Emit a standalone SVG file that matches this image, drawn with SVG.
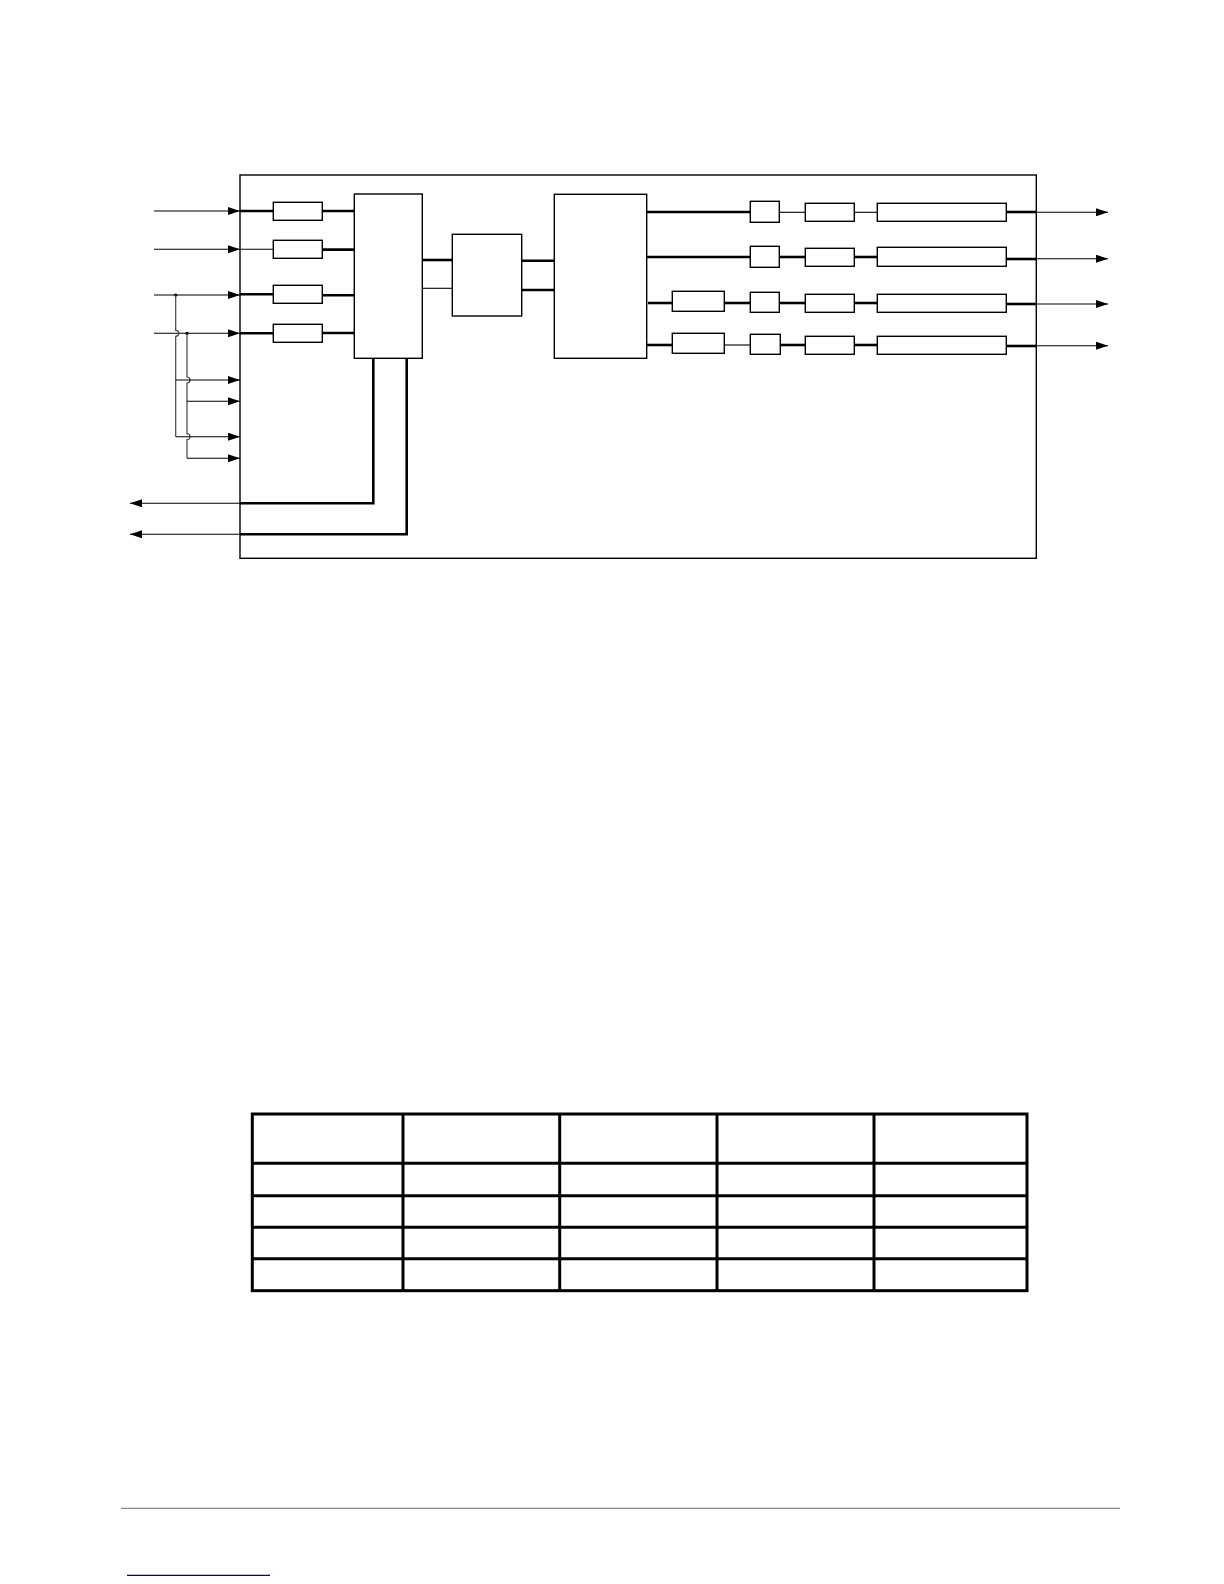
<svg xmlns="http://www.w3.org/2000/svg" width="1224" height="1584" viewBox="0 0 1224 1584">
<style>
.box{fill:#fff;stroke:#000;stroke-width:1.4}
.thin{fill:none;stroke:#000;stroke-width:1.1}
.thick{fill:none;stroke:#000;stroke-width:2.6}
.bus{fill:none;stroke:#444;stroke-width:1.2}
.tbl{fill:none;stroke:#000;stroke-width:3}
</style>
<defs>
<marker id="ah" markerUnits="userSpaceOnUse" markerWidth="12" markerHeight="8" refX="12" refY="4" orient="auto">
<path d="M0,0 L12,4 L0,8 z" fill="#000"/>
</marker>
</defs>
<rect width="1224" height="1584" fill="#fff"/>
<g id="frame"><rect class="box" x="240" y="175" width="796.3" height="383.3"/></g>
<g id="in-boxes">
<rect id="ib1" class="box" x="273.3" y="202.3" width="49" height="18"/>
<rect id="ib2" class="box" x="273.3" y="240.3" width="49" height="18"/>
<rect id="ib3" class="box" x="273.3" y="285.3" width="49" height="18"/>
<rect id="ib4" class="box" x="273.3" y="324.3" width="49" height="18"/>
</g>
<g id="block1"><rect class="box" x="354.3" y="194" width="68" height="164.3"/></g>
<g id="block2"><rect class="box" x="452.3" y="234.3" width="69.4" height="81.7"/></g>
<g id="block3"><rect class="box" x="554.3" y="194.3" width="92.4" height="164"/></g>
<g id="row-boxes">
<rect class="box" x="672.3" y="291.3" width="52" height="20"/>
<rect class="box" x="672.3" y="333.3" width="52" height="20"/>
<rect class="box" x="750.3" y="201.3" width="29" height="21"/>
<rect class="box" x="750.3" y="246.3" width="29" height="21"/>
<rect class="box" x="750.3" y="292.3" width="29" height="20"/>
<rect class="box" x="750.3" y="334.3" width="30" height="20"/>
<rect class="box" x="805.3" y="203.3" width="49" height="18"/>
<rect class="box" x="805.3" y="248.3" width="49" height="18"/>
<rect class="box" x="805.3" y="294.3" width="49" height="18"/>
<rect class="box" x="805.3" y="336.3" width="49" height="18"/>
<rect class="box" x="877.3" y="203.3" width="129" height="18"/>
<rect class="box" x="877.3" y="247.3" width="129" height="19"/>
<rect class="box" x="877.3" y="294.3" width="129" height="18"/>
<rect class="box" x="877.3" y="336.3" width="129" height="18"/>
</g>
<g id="connectors">
<!-- inputs -->
<line class="thin" x1="154" y1="211" x2="240" y2="211" marker-end="url(#ah)"/>
<line class="thin" x1="154" y1="249.3" x2="240" y2="249.3" marker-end="url(#ah)"/>
<line class="thin" x1="154" y1="295" x2="240" y2="295" marker-end="url(#ah)"/>
<line class="thin" x1="154" y1="333.3" x2="240" y2="333.3" marker-end="url(#ah)"/>
<line class="thick" x1="240" y1="211" x2="273.3" y2="211"/>
<line class="thin" x1="240" y1="249.3" x2="273.3" y2="249.3"/>
<line class="thick" x1="240" y1="294.3" x2="273.3" y2="294.3"/>
<line class="thick" x1="240" y1="333.3" x2="273.3" y2="333.3"/>
<line class="thick" x1="322.3" y1="211" x2="354.3" y2="211"/>
<line class="thick" x1="322.3" y1="249.6" x2="354.3" y2="249.6"/>
<line class="thick" x1="322.3" y1="295.3" x2="354.3" y2="295.3"/>
<line class="thick" x1="322.3" y1="333" x2="354.3" y2="333"/>
<!-- bus -->
<circle cx="175.7" cy="295" r="1.6" fill="#000"/>
<circle cx="187" cy="333.3" r="1.6" fill="#000"/>
<path class="bus" d="M175.7,295 V330.3 a3,3 0 0 1 0,6 V436.7"/>
<path class="bus" d="M187,333.3 V377 a3,3 0 0 1 0,6 V433.7 a3,3 0 0 1 0,6 V458.3"/>
<line class="thin" x1="175.7" y1="380" x2="240" y2="380" marker-end="url(#ah)"/>
<line class="thin" x1="187" y1="401.3" x2="240" y2="401.3" marker-end="url(#ah)"/>
<line class="thin" x1="175.7" y1="436.7" x2="240" y2="436.7" marker-end="url(#ah)"/>
<line class="thin" x1="187" y1="458.3" x2="240" y2="458.3" marker-end="url(#ah)"/>
<!-- outputs left -->
<path class="thick" d="M373.3,358.3 V503.3 H240"/>
<path class="thick" d="M406.7,358.3 V534.3 H240"/>
<line class="thin" x1="240" y1="503.3" x2="130" y2="503.3" marker-end="url(#ah)"/>
<line class="thin" x1="240" y1="534.3" x2="130" y2="534.3" marker-end="url(#ah)"/>
<!-- block1 to block2 -->
<line class="thick" x1="422.3" y1="260" x2="452.3" y2="260"/>
<line class="thin" x1="422.3" y1="288.3" x2="452.3" y2="288.3"/>
<!-- block2 to block3 -->
<line class="thick" x1="521.7" y1="260.7" x2="554.3" y2="260.7"/>
<line class="thick" x1="521.7" y1="290" x2="554.3" y2="290"/>
<!-- rows -->
<line class="thick" x1="646.7" y1="212" x2="750.3" y2="212"/>
<line class="thin" x1="779.3" y1="212.3" x2="805.3" y2="212.3"/>
<line class="thin" x1="854.3" y1="212.3" x2="877.3" y2="212.3"/>
<line class="thick" x1="646.7" y1="257" x2="750.3" y2="257"/>
<line class="thick" x1="779.3" y1="257" x2="805.3" y2="257"/>
<line class="thick" x1="854.3" y1="257" x2="877.3" y2="257"/>
<line class="thick" x1="648" y1="303" x2="672.3" y2="303"/>
<line class="thick" x1="724.3" y1="303" x2="750.3" y2="303"/>
<line class="thick" x1="779.3" y1="303" x2="805.3" y2="303"/>
<line class="thick" x1="854.3" y1="303" x2="877.3" y2="303"/>
<line class="thick" x1="646.7" y1="345" x2="672.3" y2="345"/>
<line class="thin" x1="724.3" y1="345" x2="750.3" y2="345"/>
<line class="thick" x1="780.3" y1="345" x2="805.3" y2="345"/>
<line class="thick" x1="854.3" y1="345" x2="877.3" y2="345"/>
<!-- outputs right -->
<line class="thick" x1="1006.3" y1="212" x2="1036.3" y2="212"/>
<line class="thick" x1="1006.3" y1="259" x2="1036.3" y2="259"/>
<line class="thick" x1="1006.3" y1="304" x2="1036.3" y2="304"/>
<line class="thick" x1="1006.3" y1="346" x2="1036.3" y2="346"/>
<line class="thin" x1="1036.3" y1="212.3" x2="1108" y2="212.3" marker-end="url(#ah)"/>
<line class="thin" x1="1036.3" y1="258.7" x2="1108" y2="258.7" marker-end="url(#ah)"/>
<line class="thin" x1="1036.3" y1="304" x2="1108" y2="304" marker-end="url(#ah)"/>
<line class="thin" x1="1036.3" y1="345.7" x2="1108" y2="345.7" marker-end="url(#ah)"/>
</g>
<g id="table">
<rect class="tbl" x="252.3" y="1114" width="774.7" height="176.7"/>
<line class="tbl" x1="252.3" y1="1163.3" x2="1027" y2="1163.3"/>
<line class="tbl" x1="252.3" y1="1195.7" x2="1027" y2="1195.7"/>
<line class="tbl" x1="252.3" y1="1227.3" x2="1027" y2="1227.3"/>
<line class="tbl" x1="252.3" y1="1258.7" x2="1027" y2="1258.7"/>
<line class="tbl" x1="403" y1="1114" x2="403" y2="1290.7"/>
<line class="tbl" x1="559.7" y1="1114" x2="559.7" y2="1290.7"/>
<line class="tbl" x1="717" y1="1114" x2="717" y2="1290.7"/>
<line class="tbl" x1="874" y1="1114" x2="874" y2="1290.7"/>
</g>
<g id="footer">
<line x1="121" y1="1508.3" x2="1120" y2="1508.3" stroke="#888" stroke-width="1.2"/>
<line x1="127" y1="1575.3" x2="270" y2="1575.3" stroke="#000080" stroke-width="1.2"/>
</g>
</svg>
